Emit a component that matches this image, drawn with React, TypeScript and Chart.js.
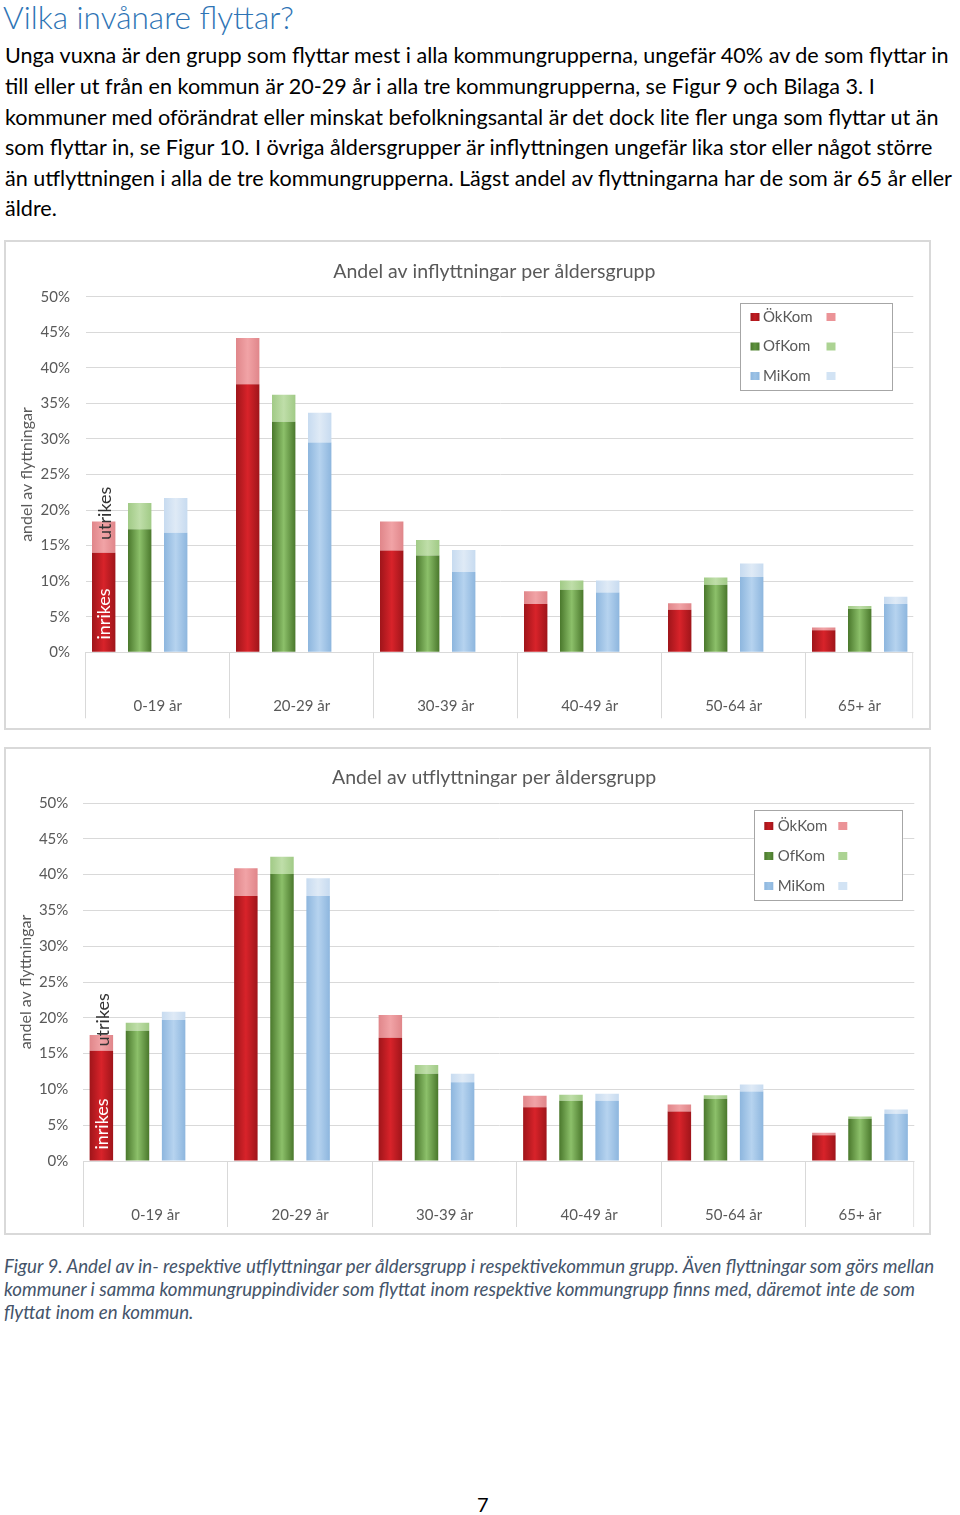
import React, { useEffect, useMemo, useRef } from 'react';
import { Chart, registerables } from 'chart.js';

Chart.register(...registerables);

// ---------------- data ----------------
const CATEGORIES = ['0-19 år', '20-29 år', '30-39 år', '40-49 år', '50-64 år', '65+ år'];
const GROUPS = ['ÖkKom', 'OfKom', 'MiKom'];
const Y_TICK_VALUES = [0, 5, 10, 15, 20, 25, 30, 35, 40, 45, 50];

// Andel av inflyttningar (%)
const INFLYTT_INRIKES_OK = [14.0, 37.7, 14.3, 6.8, 6.0, 3.1];
const INFLYTT_UTRIKES_OK = [4.4, 6.5, 4.1, 1.8, 0.9, 0.4];
const INFLYTT_INRIKES_OF = [17.3, 32.4, 13.6, 8.8, 9.5, 6.1];
const INFLYTT_UTRIKES_OF = [3.7, 3.8, 2.2, 1.3, 1.0, 0.4];
const INFLYTT_INRIKES_MI = [16.8, 29.5, 11.3, 8.4, 10.6, 6.8];
const INFLYTT_UTRIKES_MI = [4.9, 4.2, 3.1, 1.7, 1.9, 1.0];

// Andel av utflyttningar (%)
const UTFLYTT_INRIKES_OK = [15.4, 37.0, 17.2, 7.5, 6.9, 3.6];
const UTFLYTT_UTRIKES_OK = [2.2, 3.9, 3.2, 1.6, 1.0, 0.35];
const UTFLYTT_INRIKES_OF = [18.2, 40.1, 12.2, 8.4, 8.7, 5.9];
const UTFLYTT_UTRIKES_OF = [1.1, 2.4, 1.2, 0.85, 0.5, 0.3];
const UTFLYTT_INRIKES_MI = [19.7, 37.0, 11.0, 8.4, 9.7, 6.6];
const UTFLYTT_UTRIKES_MI = [1.15, 2.5, 1.2, 1.0, 1.0, 0.6];

// ---------------- texts ----------------
const HEADING = 'Vilka invånare flyttar?';
const PARAGRAPH_LINES = [
  'Unga vuxna är den grupp som flyttar mest i alla kommungrupperna, ungefär 40% av de som flyttar in',
  'till eller ut från en kommun är 20-29 år i alla tre kommungrupperna, se Figur 9 och Bilaga 3. I',
  'kommuner med oförändrat eller minskat befolkningsantal är det dock lite fler unga som flyttar ut än',
  'som flyttar in, se Figur 10. I övriga åldersgrupper är inflyttningen ungefär lika stor eller något större',
  'än utflyttningen i alla de tre kommungrupperna. Lägst andel av flyttningarna har de som är 65 år eller',
  'äldre.',
];
const CAPTION_LINES = [
  'Figur 9. Andel av in- respektive utflyttningar per åldersgrupp i respektivekommun grupp. Även flyttningar som görs mellan',
  'kommuner i samma kommungruppindivider som flyttat inom respektive kommungrupp finns med, däremot inte de som',
  'flyttat inom en kommun.',
];
const PAGE_NUMBER = '7';
const CHART1_TITLE = 'Andel av inflyttningar per åldersgrupp';
const CHART2_TITLE = 'Andel av utflyttningar per åldersgrupp';
const Y_TITLE = 'andel av flyttningar';
const LABEL_INRIKES = 'inrikes';
const LABEL_UTRIKES = 'utrikes';

// ---------------- styles ----------------
const FONT = 'Lato, "Open Sans", sans-serif';
const TEXT_GRAY = '#595959';
const GRID = '#d9d9d9';
const TITLE_SIZE = 19.5;
const AXIS_TITLE_SIZE = 16;
const SERIES_COLORS = [
  { inEdge: '#9f151a', inCenter: '#d8232a', utEdge: '#e0868a', utCenter: '#f1a3a6', swIn: '#c41b21', swUt: '#eb9397' },
  { inEdge: '#4a782c', inCenter: '#8cc06a', utEdge: '#a1ca86', utCenter: '#bfdea9', swIn: '#5f9440', swUt: '#acd393' },
  { inEdge: '#8db6de', inCenter: '#b6d3ef', utEdge: '#c7dbf0', utCenter: '#dfeaf6', swIn: '#9dc3e6', swUt: '#d2e3f4' },
];

function gradientFor(ctx: CanvasRenderingContext2D, x0: number, x1: number, edge: string, center: string) {
  const g = ctx.createLinearGradient(x0, 0, x1, 0);
  g.addColorStop(0, edge);
  g.addColorStop(0.5, center);
  g.addColorStop(1, edge);
  return g;
}

const decorPlugin: any = {
  id: 'decor',
  beforeDraw(chart: any, _args: any, opts: any) {
    const ctx = chart.ctx;
    ctx.save();
    ctx.beginPath();
    ctx.rect(0, 0, opts.clipRight, chart.height);
    ctx.clip();
  },
  beforeDatasetsDraw(chart: any) {
    const ctx = chart.ctx;
    chart.getSortedVisibleDatasetMetas().forEach((meta: any) => {
      const ds: any = chart.data.datasets[meta.index];
      if (!ds.edgeColor) return;
      meta.data.forEach((el: any) => {
        const w = el.width;
        const g = gradientFor(ctx, el.x - w / 2, el.x + w / 2, ds.edgeColor, ds.centerColor);
        el.options = Object.assign({}, el.options, { backgroundColor: g });
      });
    });
  },
  afterDraw(chart: any, _args: any, opts: any) {
    const ctx = chart.ctx;
    const a = chart.chartArea;
    const xs = chart.scales.x;
    const ys = chart.scales.y;

    // right edge divider of the (clipped) category axis
    ctx.save();
    ctx.strokeStyle = GRID;
    ctx.lineWidth = 1;
    ctx.beginPath();
    ctx.moveTo(opts.clipRight - 0.5, a.bottom);
    ctx.lineTo(opts.clipRight - 0.5, a.bottom + opts.tickLen);
    ctx.stroke();
    ctx.restore();

    // category labels, centred in the visible part of each category
    const catW = (a.right - a.left) / CATEGORIES.length;
    ctx.save();
    ctx.fillStyle = TEXT_GRAY;
    ctx.font = `15px ${FONT}`;
    ctx.textAlign = 'center';
    ctx.textBaseline = 'middle';
    CATEGORIES.forEach((label, i) => {
      const c = xs.getPixelForValue(i);
      const l = c - catW / 2;
      const r = Math.min(c + catW / 2, opts.clipRight);
      ctx.fillText(label, (l + r) / 2, a.bottom + opts.labelDy);
    });
    ctx.restore();

    // legend box
    const L = opts.legend;
    const bx = a.left + L.dx;
    const by = a.top + L.dy;
    ctx.save();
    ctx.fillStyle = '#ffffff';
    ctx.fillRect(bx, by, L.w, L.h);
    ctx.strokeStyle = '#a6a6a6';
    ctx.lineWidth = 1;
    ctx.strokeRect(Math.round(bx) + 0.5, Math.round(by) + 0.5, Math.round(L.w) - 1, Math.round(L.h) - 1);
    ctx.font = `15px ${FONT}`;
    ctx.textBaseline = 'middle';
    ctx.textAlign = 'left';
    GROUPS.forEach((g, gi) => {
      const col = SERIES_COLORS[gi];
      const y = by + L.row0 + gi * L.pitch;
      const sx = bx + L.sw;
      ctx.fillStyle = gradientFor(ctx, sx, sx + 9, col.inEdge, col.swIn);
      ctx.fillRect(sx, y - 4, 9, 8);
      ctx.fillStyle = TEXT_GRAY;
      ctx.fillText(g, bx + L.tx, y);
      ctx.fillStyle = col.swUt;
      ctx.fillRect(bx + L.lx, y - 4, 9, 8);
    });
    ctx.restore();

    // inrikes / utrikes annotations on the first bar
    const el = chart.getDatasetMeta(0).data[0];
    if (el) {
      ctx.save();
      ctx.font = `18px ${FONT}`;
      ctx.textAlign = 'left';
      ctx.textBaseline = 'middle';
      ctx.translate(el.x + 0.5, ys.getPixelForValue(opts.inrikesAt));
      ctx.rotate(-Math.PI / 2);
      ctx.fillStyle = '#ffffff';
      ctx.fillText(LABEL_INRIKES, 0, 0);
      ctx.restore();
      ctx.save();
      ctx.font = `18px ${FONT}`;
      ctx.textAlign = 'left';
      ctx.textBaseline = 'middle';
      ctx.translate(el.x + 1.5, ys.getPixelForValue(opts.utrikesAt));
      ctx.rotate(-Math.PI / 2);
      ctx.fillStyle = '#333333';
      ctx.fillText(LABEL_UTRIKES, 0, 0);
      ctx.restore();
    }

    ctx.restore(); // clip from beforeDraw
  },
};

type Spec = {
  title: string;
  inrikes: number[][];
  utrikes: number[][];
  box: { left: number; top: number; w: number; h: number };
  canvasH: number;
  padLeft: number;
  titleCenterY: number; // canvas px
  areaLeft: number;
  areaTop: number;
  areaRight: number;
  areaBottom: number;
  clipRight: number;
  yTitleX: number;
  yTickPad: number;
  tickLen: number;
  labelDy: number;
  legend: { dx: number; dy: number; w: number; h: number; row0: number; pitch: number; sw: number; tx: number; lx: number };
  inrikesAt: number;
  utrikesAt: number;
};

function BarChartBox({ spec }: { spec: Spec }) {
  const ref = useRef<HTMLCanvasElement>(null);
  const padRight = 20;
  const canvasW = Math.ceil(spec.areaRight + padRight);
  useEffect(() => {
    if (!ref.current) return;
    const datasets: any[] = [];
    GROUPS.forEach((g, gi) => {
      const col = SERIES_COLORS[gi];
      datasets.push({
        label: g + ' inrikes',
        data: spec.inrikes[gi],
        stack: g,
        backgroundColor: col.inCenter,
        edgeColor: col.inEdge,
        centerColor: col.inCenter,
      });
      datasets.push({
        label: g + ' utrikes',
        data: spec.utrikes[gi],
        stack: g,
        backgroundColor: col.utCenter,
        edgeColor: col.utEdge,
        centerColor: col.utCenter,
      });
    });
    // empty fourth slot in each category (as in the original chart)
    datasets.push({ label: '', data: [], stack: 'empty' });

    const titleLH = TITLE_SIZE * 1.2;
    const titlePadTop = spec.titleCenterY - titleLH / 2;
    const titlePadBottom = spec.areaTop - titlePadTop - titleLH;
    const yTitlePad = spec.yTitleX - spec.padLeft - (AXIS_TITLE_SIZE * 1.2) / 2;

    const chart = new Chart(ref.current, {
      type: 'bar',
      data: { labels: CATEGORIES, datasets },
      options: {
        responsive: false,
        animation: false,
        devicePixelRatio: 1,
        layout: { padding: { left: spec.padLeft, right: canvasW - spec.areaRight, top: 0, bottom: 0 } },
        datasets: { bar: { categoryPercentage: 1, barPercentage: 0.65, borderWidth: 0 } } as any,
        scales: {
          x: {
            stacked: true,
            grid: { offset: true, drawOnChartArea: false, color: GRID, tickLength: spec.tickLen, tickWidth: 1 },
            border: { display: true, color: GRID },
            ticks: { display: false },
            afterFit: (s: any) => {
              s.height = spec.canvasH - spec.areaBottom;
            },
          },
          y: {
            stacked: true,
            min: 0,
            max: 50,
            border: { display: false },
            grid: { color: GRID, drawTicks: false },
            ticks: {
              padding: spec.yTickPad,
              color: TEXT_GRAY,
              font: { family: FONT, size: 15 },
              callback: (v: any) => `${v}%`,
            },
            afterBuildTicks: (s: any) => {
              s.ticks = Y_TICK_VALUES.map((value) => ({ value }));
            },
            title: {
              display: true,
              text: Y_TITLE,
              color: TEXT_GRAY,
              font: { family: FONT, size: AXIS_TITLE_SIZE },
              padding: { top: yTitlePad, bottom: 0 },
            },
            afterFit: (s: any) => {
              s.width = spec.areaLeft - spec.padLeft;
            },
          },
        } as any,
        plugins: {
          legend: { display: false },
          tooltip: { enabled: false },
          title: {
            display: true,
            text: spec.title,
            color: TEXT_GRAY,
            font: { family: FONT, size: TITLE_SIZE, weight: 'normal' },
            padding: { top: titlePadTop, bottom: titlePadBottom },
          },
          decor: {
            clipRight: spec.clipRight,
            tickLen: spec.tickLen,
            labelDy: spec.labelDy,
            legend: spec.legend,
            inrikesAt: spec.inrikesAt,
            utrikesAt: spec.utrikesAt,
          },
        } as any,
      },
      plugins: [decorPlugin],
    });
    return () => chart.destroy();
  }, [spec]);

  return (
    <div
      style={{
        position: 'absolute',
        left: spec.box.left,
        top: spec.box.top,
        width: spec.box.w,
        height: spec.box.h,
        border: '2px solid #d9d9d9',
        boxSizing: 'border-box',
        overflow: 'hidden',
        background: '#fff',
      }}
    >
      <canvas
        ref={ref}
        width={canvasW}
        height={spec.canvasH}
        style={{ display: 'block', width: canvasW, height: spec.canvasH }}
      />
    </div>
  );
}

// geometry (canvas px; canvas origin is the inner corner of the bordered box)
const SPEC1: Spec = {
  title: CHART1_TITLE,
  inrikes: [INFLYTT_INRIKES_OK, INFLYTT_INRIKES_OF, INFLYTT_INRIKES_MI],
  utrikes: [INFLYTT_UTRIKES_OK, INFLYTT_UTRIKES_OF, INFLYTT_UTRIKES_MI],
  box: { left: 4, top: 240, w: 927, h: 490 },
  canvasH: 486,
  padLeft: 33,
  titleCenterY: 30,
  areaLeft: 79.7,
  areaTop: 54.7,
  areaRight: 943.7,
  areaBottom: 410.3,
  clipRight: 907.3,
  yTitleX: 20.5,
  yTickPad: 15.7,
  tickLen: 66,
  labelDy: 54.2,
  legend: { dx: 654.3, dy: 6.6, w: 153.3, h: 87.7, row0: 13.7, pitch: 29.5, sw: 10.5, tx: 23, lx: 86.5 },
  inrikesAt: 1.8,
  utrikesAt: 15.8,
};

const SPEC2: Spec = {
  title: CHART2_TITLE,
  inrikes: [UTFLYTT_INRIKES_OK, UTFLYTT_INRIKES_OF, UTFLYTT_INRIKES_MI],
  utrikes: [UTFLYTT_UTRIKES_OK, UTFLYTT_UTRIKES_OF, UTFLYTT_UTRIKES_MI],
  box: { left: 4, top: 747, w: 927, h: 488 },
  canvasH: 484,
  padLeft: 32,
  titleCenterY: 29,
  areaLeft: 77.3,
  areaTop: 54,
  areaRight: 944.3,
  areaBottom: 412,
  clipRight: 908.3,
  yTitleX: 19.8,
  yTickPad: 15,
  tickLen: 66,
  labelDy: 54.5,
  legend: { dx: 671, dy: 7.3, w: 149, h: 91.4, row0: 15.7, pitch: 30, sw: 10, tx: 23.4, lx: 84 },
  inrikesAt: 1.6,
  utrikesAt: 16.0,
};

function fitSize(text: string, font: (s: number) => string, target: number, fallback: number) {
  const c = document.createElement('canvas').getContext('2d');
  if (!c) return fallback;
  c.font = font(100);
  const w = c.measureText(text).width;
  return w > 0 ? (100 * target) / w : fallback;
}

function TextBlock(props: {
  lines: string[];
  size: number;
  lineHeight: number;
  baseline: number;
  left: number;
  style?: React.CSSProperties;
}) {
  const { lines, size, lineHeight, baseline, left, style } = props;
  const top = baseline - ((lineHeight - 1.2 * size) / 2 + 0.987 * size);
  return (
    <div
      style={{
        position: 'absolute',
        left,
        top,
        fontFamily: FONT,
        fontSize: size,
        lineHeight: `${lineHeight}px`,
        whiteSpace: 'pre',
        ...style,
      }}
    >
      {lines.map((l, i) => (
        <div key={i}>{l}</div>
      ))}
    </div>
  );
}

export default function App() {
  const sizes = useMemo(
    () => ({
      heading: fitSize(HEADING, (s) => `300 ${s}px Lato`, 291, 30),
      para: fitSize(PARAGRAPH_LINES[0], (s) => `${s}px Lato`, 947, 20),
      caption: fitSize(CAPTION_LINES[0], (s) => `italic ${s}px Lato`, 934, 16),
    }),
    []
  );

  return (
    <div
      style={{
        position: 'absolute',
        left: 0,
        top: 0,
        width: 960,
        height: 1515,
        overflow: 'hidden',
        background: '#fff',
        color: '#000',
      }}
    >
      <TextBlock
        lines={[HEADING]}
        size={sizes.heading}
        lineHeight={40}
        baseline={29.3}
        left={3}
        style={{ color: '#2e74b5', fontWeight: 300 }}
      />
      <TextBlock lines={PARAGRAPH_LINES} size={sizes.para} lineHeight={30.6} baseline={64} left={5} />

      <BarChartBox spec={SPEC1} />
      <BarChartBox spec={SPEC2} />

      <TextBlock
        lines={CAPTION_LINES}
        size={sizes.caption}
        lineHeight={23}
        baseline={1274}
        left={4}
        style={{ color: '#44546a', fontStyle: 'italic' }}
      />
      <TextBlock
        lines={[PAGE_NUMBER]}
        size={20}
        lineHeight={24}
        baseline={1512}
        left={477}
      />
    </div>
  );
}
